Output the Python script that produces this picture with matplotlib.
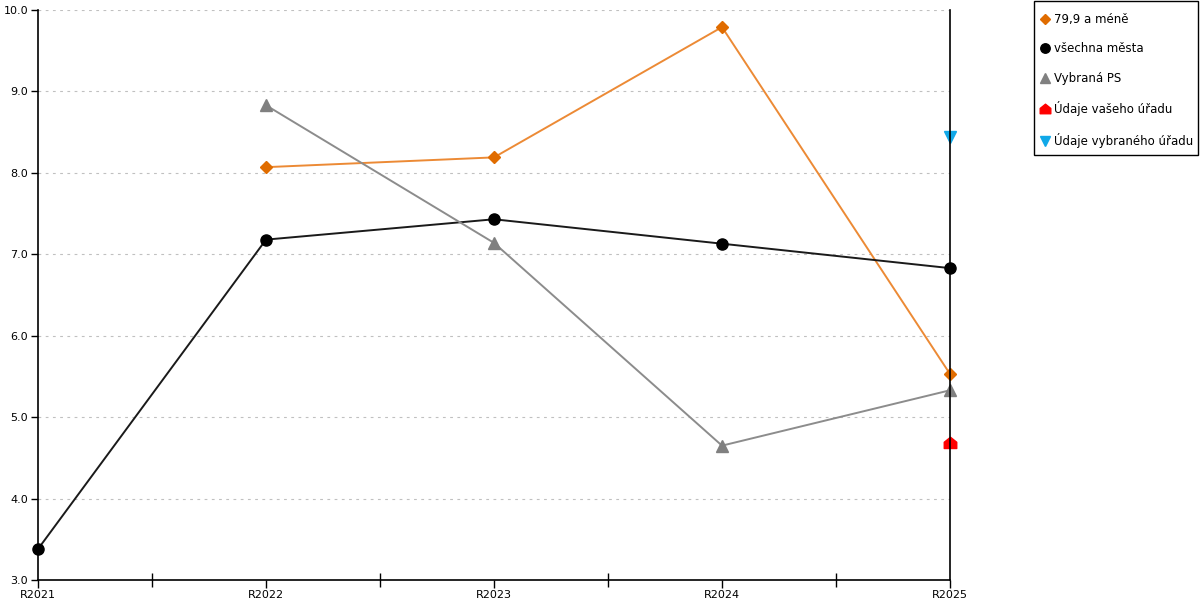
import numpy as np
import matplotlib
matplotlib.use('Agg')
import matplotlib.pyplot as plt
from matplotlib.path import Path
from matplotlib.patches import Rectangle

plt.rcParams['font.family'] = ['DejaVu Sans']

years = ['R2021', 'R2022', 'R2023', 'R2024', 'R2025']

mene_799 = [np.nan, 8.07, 8.19, 9.79, 5.53]
vsechna_mesta = [3.38, 7.18, 7.43, 7.13, 6.83]
vybrana_ps = [np.nan, 8.83, 7.14, 4.65, 5.33]
vas_urad = [np.nan, np.nan, np.nan, np.nan, 4.68]
vybrany_urad = [np.nan, np.nan, np.nan, np.nan, 8.44]

y_ticks = [3.0, 4.0, 5.0, 6.0, 7.0, 8.0, 9.0, 10.0]

# house-shaped marker for "Údaje vašeho úřadu"
house = Path([(-1, -0.8), (1, -0.8), (1, 0.2), (0, 1), (-1, 0.2), (-1, -0.8)],
             [Path.MOVETO, Path.LINETO, Path.LINETO, Path.LINETO, Path.LINETO, Path.CLOSEPOLY])

fig = plt.figure(figsize=(12, 6), dpi=100)
ax = fig.add_axes([38 / 1200, 20 / 600, 912 / 1200, 570 / 600])

x = np.arange(len(years))

ax.plot(x, mene_799, color='#EC8A35', lw=1.4, marker='D', ms=6,
        mfc='#E06C00', mec='#E06C00', label='79,9 a méně', zorder=3, clip_on=False)
ax.plot(x, vsechna_mesta, color='#1a1a1a', lw=1.4, marker='o', ms=8,
        mfc='black', mec='black', label='všechna města', zorder=3, clip_on=False)
ax.plot(x, vybrana_ps, color='#8c8c8c', lw=1.4, marker='^', ms=8,
        mfc='#808080', mec='#808080', label='Vybraná PS', zorder=3, clip_on=False)
ax.plot(x, vas_urad, ls='none', marker=house, ms=9,
        mfc='#FF0000', mec='#FF0000', label='Údaje vašeho úřadu', zorder=3, clip_on=False)
ax.plot(x, vybrany_urad, ls='none', marker='v', ms=8,
        mfc='#10A8E8', mec='#10A8E8', label='Údaje vybraného úřadu', zorder=3, clip_on=False)

ax.set_xlim(0, len(years) - 1)
ax.set_ylim(3.0, 10.0)
ax.set_xticks(x)
ax.set_xticklabels(years)
ax.set_xticks(x[:-1] + 0.5, minor=True)
ax.set_yticks(y_ticks)
ax.set_yticklabels([f'{v:.1f}' for v in y_ticks])

ax.tick_params(axis='both', labelsize=8, colors='black', length=6, width=1, pad=1)
ax.tick_params(axis='x', which='minor', direction='inout', length=10, width=1)
ax.tick_params(axis='y', length=5, pad=2)

ax.grid(axis='y', color='#c0c0c0', ls=(0, (2.5, 4)), lw=0.8)
ax.set_axisbelow(True)

ax.spines['top'].set_visible(False)
for s in ['left', 'bottom', 'right']:
    ax.spines[s].set_color('black')
    ax.spines[s].set_linewidth(1.2)
    ax.spines[s].set_zorder(4)

# legend entries without frame, box drawn separately
leg = fig.legend(loc='upper left', bbox_to_anchor=(1034 / 1200, 1 - 7 / 600),
                 fontsize=8.5, frameon=False,
                 handlelength=0.8, handletextpad=0.4, labelspacing=1.4,
                 borderpad=0.5, borderaxespad=0, markerscale=0.85)
for h in leg.get_lines():
    h.set_linestyle('none')

fig.patches.append(Rectangle((1034 / 1200, 1 - 155 / 600), 164 / 1200, 154 / 600,
                             transform=fig.transFigure, fill=False,
                             edgecolor='black', lw=1.0))

fig.savefig('out.png', dpi=100)
